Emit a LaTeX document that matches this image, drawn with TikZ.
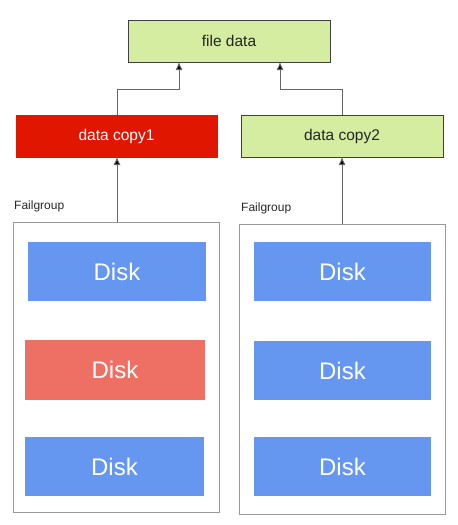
\documentclass[tikz,border=0pt]{standalone}
\usepackage{fontspec}
\setmainfont{Liberation Sans}
\usepackage{xcolor}
\usetikzlibrary{arrows.meta,positioning,calc}
\definecolor{diskblue}{HTML}{6596F0}
\definecolor{diskred}{HTML}{EE7065}
\definecolor{copyred}{HTML}{E11600}
\definecolor{copygreen}{HTML}{D5EDA0}

\begin{document}
\begin{tikzpicture}[x=1pt,y=-1pt,>={Latex[length=8pt,width=7pt,fill=black]},
  box/.style={anchor=north west,inner sep=0pt,outer sep=0pt},
  copybox/.style={box,draw=black!75,line width=.8pt,minimum width=202pt,minimum height=42pt,text=black!85,font=\fontsize{15.5}{18}\selectfont},
  groupbox/.style={box,draw=black!40,line width=1pt,minimum width=206pt,minimum height=290pt},
  grplabel/.style={anchor=south west,inner sep=0pt,text=black!85,font=\fontsize{12}{14}\selectfont},
  disk/.style={box,fill=diskblue,text=white,minimum width=178pt,minimum height=59pt,font=\fontsize{24}{28}\selectfont},
  link/.style={draw=black!60,line width=.9pt}]
\useasboundingbox (0,0) rectangle (458,525);
% top
\node[copybox,fill=copygreen] (file) at (128,20) {file data};
\node[copybox,fill=copyred,draw=copyred,text=white,minimum width=201pt] (copy1) at (16,115) {data copy1};
\node[copybox,fill=copygreen] (copy2) at (241,115) {data copy2};
% fail groups
\node[groupbox] (grp1) at (13,222) {};
\node[groupbox] (grp2) at (239,224) {};
\node[grplabel] at ($(grp1.north west)+(1,-10)$) {Failgroup};
\node[grplabel] at ($(grp2.north west)+(2,-10)$) {Failgroup};
% disks
\node[disk] (d11) at (28,242) {Disk};
\node[disk,fill=diskred,minimum width=180pt,minimum height=60pt] (d12) at (25,340) {Disk};
\node[disk,minimum width=179pt] (d13) at (25,437) {Disk};
\node[disk,minimum width=177pt] (d21) at (254,242) {Disk};
\node[disk,minimum width=177pt] (d22) at (254,341) {Disk};
\node[disk,minimum width=177pt] (d23) at (254,437) {Disk};
% links
\coordinate (j1) at ($(file.south west)+(51,27)$);
\coordinate (j2) at ($(file.south west)+(152,27)$);
\draw[link,->] (copy1.north -| 117,0) |- (j1) -- (j1 |- file.south);
\draw[link,->] (copy2.north -| 342,0) |- (j2) -- (j2 |- file.south);
\draw[link,->] (grp1.north -| 117,0) -- (copy1.south -| 117,0);
\draw[link,->] (grp2.north -| 342,0) -- (copy2.south -| 342,0);
\end{tikzpicture}
\end{document}
